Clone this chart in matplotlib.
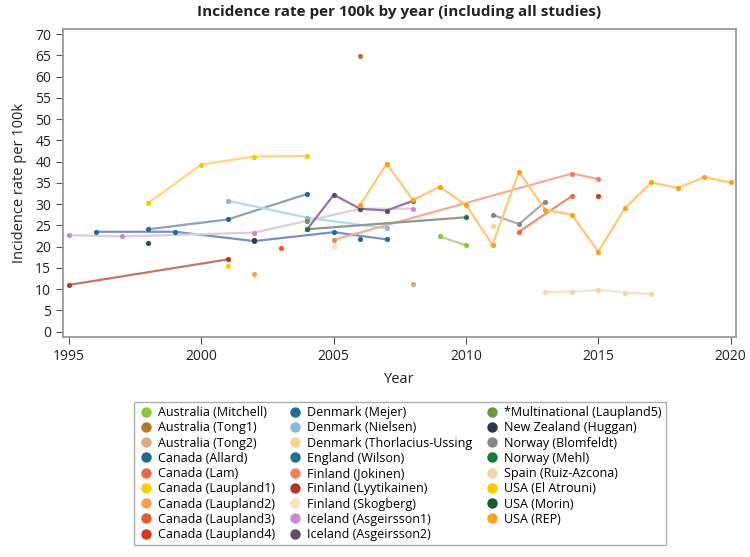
import matplotlib
matplotlib.use("Agg")
import matplotlib.pyplot as plt
from matplotlib.lines import Line2D

plt.rcParams['font.family'] = ['Open Sans', 'DejaVu Sans']

# series: name -> (years, incidence per 100k)
mitchell_years = [2009, 2010]
mitchell_rate = [22.4, 20.3]
tong1_years = [2006]
tong1_rate = [64.9]
tong2_years = [2008]
tong2_rate = [11.2]
allard_years = [1998, 2001, 2004]
allard_rate = [24.1, 26.4, 32.4]
lam_years = [2012, 2014]
lam_rate = [23.5, 31.9]
laupland1_years = [2001]
laupland1_rate = [15.5]
laupland2_years = [2002]
laupland2_rate = [13.5]
laupland3_years = [2003]
laupland3_rate = [19.7]
laupland4_years = [2015]
laupland4_rate = [31.9]
mejer_years = [1996, 1999, 2002, 2005, 2007]
mejer_rate = [23.5, 23.5, 21.3, 23.4, 21.7]
nielsen_years = [2001, 2004, 2007]
nielsen_rate = [30.8, 26.8, 24.3]
thorlacius_years = [2011]
thorlacius_rate = [24.9]
wilson_years = [2006]
wilson_rate = [21.7]
jokinen_years = [2005, 2014, 2015]
jokinen_rate = [21.6, 37.2, 35.9]
lyytikainen_years = [1995, 2001]
lyytikainen_rate = [11.0, 17.0]
skogberg_years = [2005]
skogberg_rate = [20.0]
asgeirsson1_years = [1995, 1997, 2002, 2006, 2008]
asgeirsson1_rate = [22.7, 22.4, 23.3, 28.9, 28.9]
asgeirsson2_years = [2004, 2005, 2006, 2007, 2008]
asgeirsson2_rate = [24.1, 32.2, 28.9, 28.5, 30.8]
laupland5_years = [2004]
laupland5_rate = [26.1]
huggan_years = [2002]
huggan_rate = [21.6]
blomfeldt_years = [2011, 2012, 2013]
blomfeldt_rate = [27.5, 25.3, 30.6]
mehl_years = [2004, 2010]
mehl_rate = [24.1, 26.9]
ruiz_years = [2013, 2014, 2015, 2016, 2017]
ruiz_rate = [9.3, 9.4, 9.8, 9.2, 8.9]
atrouni_years = [1998, 2000, 2002, 2004]
atrouni_rate = [30.3, 39.3, 41.2, 41.3]
morin_years = [1998]
morin_rate = [20.9]
rep_years = [2006, 2007, 2008, 2009, 2010, 2011, 2012, 2013, 2014, 2015,
             2016, 2017, 2018, 2019, 2020]
rep_rate = [29.8, 39.5, 30.9, 34.1, 29.8, 20.4, 37.6, 28.6, 27.5, 18.8,
            29.0, 35.1, 33.8, 36.3, 35.1]

series = [
    ("Australia (Mitchell)", mitchell_years, mitchell_rate),
    ("Australia (Tong1)", tong1_years, tong1_rate),
    ("Australia (Tong2)", tong2_years, tong2_rate),
    ("Canada (Allard)", allard_years, allard_rate),
    ("Canada (Lam)", lam_years, lam_rate),
    ("Canada (Laupland1)", laupland1_years, laupland1_rate),
    ("Canada (Laupland2)", laupland2_years, laupland2_rate),
    ("Canada (Laupland3)", laupland3_years, laupland3_rate),
    ("Canada (Laupland4)", laupland4_years, laupland4_rate),
    ("Denmark (Mejer)", mejer_years, mejer_rate),
    ("Denmark (Nielsen)", nielsen_years, nielsen_rate),
    ("Denmark (Thorlacius-Ussing", thorlacius_years, thorlacius_rate),
    ("England (Wilson)", wilson_years, wilson_rate),
    ("Finland (Jokinen)", jokinen_years, jokinen_rate),
    ("Finland (Lyytikainen)", lyytikainen_years, lyytikainen_rate),
    ("Finland (Skogberg)", skogberg_years, skogberg_rate),
    ("Iceland (Asgeirsson1)", asgeirsson1_years, asgeirsson1_rate),
    ("Iceland (Asgeirsson2)", asgeirsson2_years, asgeirsson2_rate),
    ("*Multinational (Laupland5)", laupland5_years, laupland5_rate),
    ("New Zealand (Huggan)", huggan_years, huggan_rate),
    ("Norway (Blomfeldt)", blomfeldt_years, blomfeldt_rate),
    ("Norway (Mehl)", mehl_years, mehl_rate),
    ("Spain (Ruiz-Azcona)", ruiz_years, ruiz_rate),
    ("USA (El Atrouni)", atrouni_years, atrouni_rate),
    ("USA (Morin)", morin_years, morin_rate),
    ("USA (REP)", rep_years, rep_rate),
]

# marker colour, line colour
colors = {
    "Australia (Mitchell)": ("#8cc63f", "#b5d98a"),
    "Australia (Tong1)": ("#b8782a", "#b8782a"),
    "Australia (Tong2)": ("#d8aa88", "#d8aa88"),
    "Canada (Allard)": ("#1f6b8f", "#8aa2bd"),
    "Canada (Lam)": ("#e8684a", "#eb8f78"),
    "Canada (Laupland1)": ("#f5d000", "#f5d000"),
    "Canada (Laupland2)": ("#f5a050", "#f5a050"),
    "Canada (Laupland3)": ("#e06030", "#e06030"),
    "Canada (Laupland4)": ("#d03a20", "#d03a20"),
    "Denmark (Mejer)": ("#1f6b99", "#7a90c4"),
    "Denmark (Nielsen)": ("#8ab8dc", "#b0dcec"),
    "Denmark (Thorlacius-Ussing": ("#f2d690", "#f2d690"),
    "England (Wilson)": ("#1f7090", "#1f7090"),
    "Finland (Jokinen)": ("#f08060", "#f5ac95"),
    "Finland (Lyytikainen)": ("#b03a28", "#c57468"),
    "Finland (Skogberg)": ("#fde0c0", "#fde0c0"),
    "Iceland (Asgeirsson1)": ("#c88cc8", "#ddcddb"),
    "Iceland (Asgeirsson2)": ("#5e4e62", "#9a70a8"),
    "*Multinational (Laupland5)": ("#6a9a40", "#6a9a40"),
    "New Zealand (Huggan)": ("#2a3a4a", "#2a3a4a"),
    "Norway (Blomfeldt)": ("#888888", "#ababab"),
    "Norway (Mehl)": ("#1a7a3a", "#8f998a"),
    "Spain (Ruiz-Azcona)": ("#f5d5a8", "#f8e2c8"),
    "USA (El Atrouni)": ("#f8c800", "#ffd585"),
    "USA (Morin)": ("#1a5a2a", "#1a5a2a"),
    "USA (REP)": ("#f8a020", "#ffc878"),
}

fig = plt.figure(figsize=(7.5, 5.57), dpi=100)
ax = fig.add_axes([0.084, 0.395, 0.897, 0.553])

for name, yrs, vals in series:
    mc, lc = colors[name]
    if len(yrs) > 1:
        ax.plot(yrs, vals, color=lc, linewidth=1.6, zorder=2)
    ax.scatter(yrs, vals, color=mc, s=14, zorder=3, linewidths=0)

ax.set_xlim(1994.77, 2020.19)
ax.set_ylim(-1.25, 71.2)
ax.set_xticks(range(1995, 2021, 5))
ax.set_yticks(range(0, 71, 5))
ax.tick_params(labelsize=10, color="#555555", labelcolor="#222222", length=5)
for s in ax.spines.values():
    s.set_color("#9a9a9a")
    s.set_linewidth(1.3)

ax.set_title("Incidence rate per 100k by year (including all studies)",
             fontsize=11, fontweight="bold", color="#222222", pad=9)
ax.set_xlabel("Year", fontsize=10.5, color="#222222", labelpad=6)
ax.set_ylabel("Incidence rate per 100k", fontsize=10.5, color="#222222", labelpad=6)

handles = [Line2D([], [], linestyle="none", marker="o", markersize=7.5,
                  markerfacecolor=colors[n][0], markeredgewidth=0)
           for n, _, _ in series]
labels = [n for n, _, _ in series]
leg = fig.legend(handles, labels, ncol=3, loc="upper center",
                 bbox_to_anchor=(0.533, 0.29), fontsize=9, frameon=True,
                 fancybox=False, edgecolor="#999999", labelspacing=0.18,
                 handletextpad=0.35, columnspacing=1.0, handlelength=1.2,
                 borderpad=0.35)
leg.get_frame().set_linewidth(1.0)

fig.savefig("out.png", dpi=100)
